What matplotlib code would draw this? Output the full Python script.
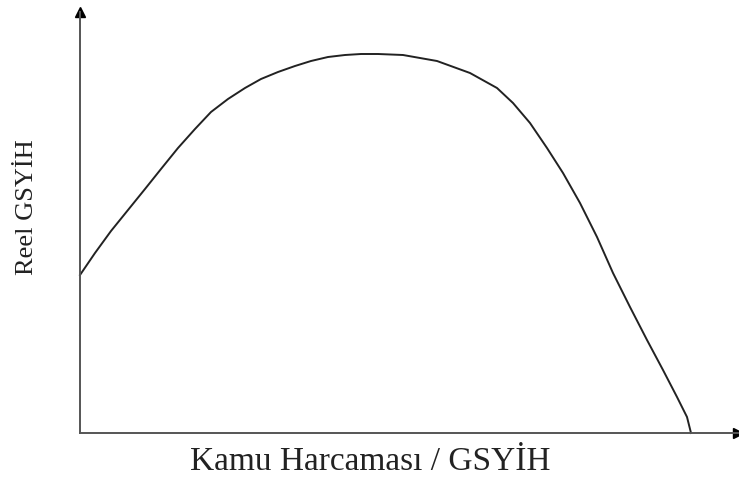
import matplotlib
matplotlib.use("Agg")
import matplotlib.pyplot as plt

kamu_harcamasi = [0, 15, 31, 48, 65, 81, 98, 115, 131, 148, 165, 181, 198, 215,
                  231, 248, 265, 281, 298, 323, 357, 390, 417, 433, 450, 467,
                  483, 500, 517, 533, 550, 567, 583, 597, 607, 611]
reel_gsyih = [158, 180, 202, 223, 244, 264, 285, 304, 321, 334, 345, 354, 361,
              367, 372, 376, 378, 379, 379, 378, 372, 360, 345, 330, 310, 285,
              260, 230, 196, 160, 126, 93, 63, 36, 16, 0]

x_label = "Kamu Harcaması / GSYİH"
y_label = "Reel GSYİH"

W, H = 739, 479
fig = plt.figure(figsize=(W / 100, H / 100), dpi=100)
ax = fig.add_axes([80 / W, 46 / H, 658 / W, 421 / H])
ax.set_xlim(0, 658)
ax.set_ylim(0, 421)

for s in ["top", "right"]:
    ax.spines[s].set_visible(False)
for s in ["left", "bottom"]:
    ax.spines[s].set_color("#555555")
    ax.spines[s].set_linewidth(1.4)
ax.set_xticks([])
ax.set_yticks([])

# arrow heads at the ends of the axes
ax.plot(1, 0, ">", color="black", markersize=7, transform=ax.transAxes, clip_on=False)
ax.plot(0, 1, "^", color="black", markersize=7, transform=ax.transAxes, clip_on=False)

ax.plot(kamu_harcamasi, reel_gsyih, color="#222222", linewidth=1.4,
        solid_joinstyle="round", clip_on=False)

fig.text(370 / W, 1 - 470 / H, x_label, family="Liberation Serif", fontsize=24,
         ha="center", va="baseline", color="#222222")
fig.text(27 / W, 1 - 207 / H, y_label, family="Liberation Serif", fontsize=19,
         rotation=90, ha="center", va="center", color="#222222")

fig.savefig("out.png", dpi=100)
